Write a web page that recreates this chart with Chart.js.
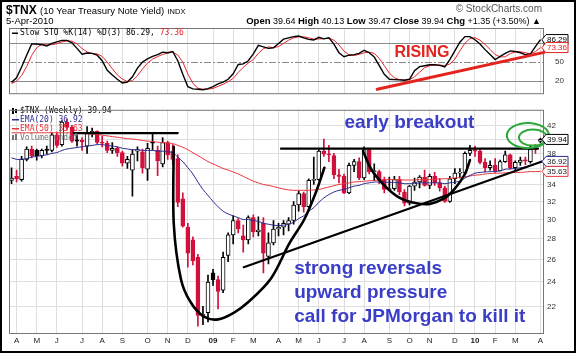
<!DOCTYPE html>
<html>
<head>
<meta charset="utf-8">
<script src="https://cdn.jsdelivr.net/npm/chart.js@4.4.1/dist/chart.umd.min.js"></script>
<style>
  html, body { margin: 0; padding: 0; background: #fff; }
  #wrap { position: relative; width: 576px; height: 353px; overflow: hidden; font-family: "Liberation Sans", Arial, sans-serif; }
  #frame { position: absolute; left: 0; top: 0; width: 572px; height: 349px; border: 2px solid #000; pointer-events: none; }
  canvas { position: absolute; left: 0; }
  #stoCanvas { top: 0; }
  #priceCanvas { top: 101px; }
  .t { position: absolute; white-space: nowrap; color: #000; }
  .hd b { font-size: 9.5px; }
</style>
</head>
<body>
<div id="wrap">
  <canvas id="stoCanvas" width="576" height="102"></canvas>
  <canvas id="priceCanvas" width="576" height="252"></canvas>
  <div class="t" style="left:6px;top:3px;font-size:12px"><b>$TNX</b> <span style="font-size:9.5px">(10 Year Treasury Note Yield)</span> <span style="font-size:7.5px">INDX</span></div>
  <div class="t" style="left:6px;top:15px;font-size:9.5px">5-Apr-2010</div>
  <div class="t" style="right:34px;top:3px;font-size:10px;color:#555">&copy; StockCharts.com</div>
  <div class="t hd" style="right:35px;top:15px;font-size:9px"><b>Open</b> 39.64 <b>High</b> 40.13 <b>Low</b> 39.47 <b>Close</b> 39.94 <b>Chg</b> +1.35 (+3.50%) &#9650;</div>
  <div id="frame"></div>
</div>
<script>
// weekly bars, first bar is the week of 31-Mar-2008, last is 5-Apr-2010
const opens = [34.5, 35.0, 34.6, 37.2, 38.6, 38.4, 37.7, 38.5, 38.4, 40.6,
  39.2, 42.5, 41.7, 39.9, 39.8, 39.0, 40.9, 41.1, 39.5, 39.4,
  38.4, 38.7, 38.1, 36.7, 35.8, 38.3, 38.2, 35.9, 39.5, 38.4,
  36.6, 39.5, 38.3, 37.3, 32.3, 29.2, 27.9, 26.2, 21.3, 21.5,
  24.8, 24.2, 23.3, 26.4, 28.4, 29.9, 28.3, 27.9, 30.2, 28.7,
  29.6, 26.3, 27.6, 29.0, 29.2, 29.5, 29.9, 31.6, 32.9, 31.4,
  34.5, 34.6, 38.3, 37.9, 37.7, 35.2, 35.0, 33.0, 36.4, 36.9,
  34.8, 38.5, 35.6, 35.6, 34.5, 33.4, 33.5, 34.6, 33.1, 31.8,
  33.8, 34.3, 34.9, 33.9, 35.0, 34.2, 33.6, 32.0, 34.7, 35.4,
  35.4, 38.0, 38.4, 38.3, 36.8, 36.1, 36.4, 35.7, 36.9, 37.8,
  36.1, 36.8, 37.1, 36.9, 38.6, 39.64];
const highs = [36.1, 35.8, 37.6, 38.9, 39.0, 38.6, 38.6, 39.0, 40.9, 41.0,
  42.7, 42.9, 42.0, 40.6, 40.2, 41.8, 41.6, 41.2, 40.4, 39.7,
  39.5, 38.9, 38.3, 37.6, 38.5, 38.9, 38.6, 39.4, 40.8, 39.0,
  40.2, 39.7, 39.2, 37.8, 33.0, 29.6, 28.2, 26.5, 22.0, 24.6,
  25.1, 24.5, 26.7, 28.6, 30.4, 30.1, 29.4, 30.4, 30.5, 30.3,
  30.2, 28.6, 29.9, 29.6, 29.9, 30.2, 32.0, 33.2, 33.1, 34.7,
  37.5, 38.7, 40.0, 39.1, 38.0, 35.9, 35.3, 36.7, 37.2, 37.4,
  38.9, 38.5, 36.6, 35.8, 34.9, 34.9, 35.0, 35.0, 33.4, 33.9,
  34.8, 35.1, 35.8, 35.3, 35.5, 34.7, 33.8, 35.0, 36.0, 36.0,
  38.2, 39.1, 39.0, 38.6, 37.3, 37.0, 37.3, 37.1, 38.3, 37.9,
  37.0, 37.5, 37.5, 39.0, 39.2, 40.13];
const lows = [34.1, 34.3, 34.4, 37.0, 37.4, 37.1, 37.4, 37.9, 38.2, 38.8,
  39.0, 41.3, 39.5, 39.0, 38.4, 38.0, 40.3, 39.3, 38.9, 38.1,
  38.0, 37.6, 36.3, 36.0, 32.6, 37.0, 35.4, 34.5, 38.5, 35.1,
  36.2, 37.2, 36.5, 31.4, 29.2, 25.3, 25.5, 20.5, 20.6, 20.8,
  23.7, 21.8, 23.1, 25.8, 27.5, 28.6, 26.7, 27.5, 28.2, 28.3,
  24.8, 25.6, 27.4, 28.3, 28.4, 28.8, 29.5, 30.9, 30.8, 31.0,
  34.0, 34.5, 37.6, 36.9, 34.7, 34.2, 32.9, 32.9, 35.6, 34.6,
  34.6, 35.3, 34.5, 34.1, 33.0, 33.3, 33.3, 32.8, 31.5, 31.6,
  33.3, 33.6, 33.8, 33.5, 33.9, 33.2, 31.9, 31.9, 34.1, 34.8,
  35.3, 37.7, 37.6, 36.6, 35.6, 35.8, 35.5, 35.7, 36.8, 35.9,
  35.8, 36.4, 36.5, 36.7, 38.0, 39.47];
const closes = [34.8, 34.7, 37.2, 38.6, 37.7, 37.7, 38.4, 38.4, 40.6, 39.1,
  42.5, 41.7, 39.7, 39.7, 39.6, 40.9, 41.1, 39.5, 39.4, 38.4,
  38.7, 38.1, 36.7, 37.2, 37.9, 38.5, 36.1, 38.7, 39.4, 37.0,
  39.5, 37.8, 37.2, 31.9, 29.3, 26.6, 25.9, 21.3, 21.3, 24.0,
  24.2, 23.2, 26.2, 28.4, 29.9, 29.0, 27.9, 30.2, 28.7, 28.9,
  26.6, 27.6, 29.0, 29.2, 29.6, 29.9, 31.6, 32.9, 31.4, 34.5,
  34.6, 38.3, 37.9, 37.8, 35.2, 35.0, 33.0, 36.4, 36.9, 34.8,
  38.5, 35.6, 35.6, 34.5, 33.4, 33.5, 34.6, 33.1, 31.8, 33.8,
  34.3, 34.9, 33.9, 35.0, 34.2, 33.6, 32.0, 34.7, 35.4, 35.4,
  38.0, 38.4, 38.3, 36.8, 36.1, 36.4, 35.7, 36.9, 37.8, 36.1,
  36.8, 37.1, 37.0, 38.6, 38.59, 39.94];
const ema20 = [37.4, 37.2, 37.2, 37.3, 37.5, 37.6, 37.7, 37.8, 38.0, 38.1,
  38.4, 38.6, 38.7, 38.8, 38.9, 39.0, 39.1, 39.2, 39.2, 39.1,
  39.0, 38.9, 38.7, 38.6, 38.5, 38.5, 38.4, 38.4, 38.4, 38.3,
  38.3, 38.2, 38.1, 37.5, 36.9, 36.1, 35.3, 34.3, 33.4, 32.7,
  32.0, 31.4, 30.9, 30.6, 30.4, 30.2, 30.0, 30.0, 29.9, 29.8,
  29.6, 29.5, 29.4, 29.35, 29.4, 29.5, 29.7, 30.1, 30.4, 30.9,
  31.3, 31.9, 32.4, 32.8, 33.1, 33.3, 33.4, 33.6, 33.8, 33.9,
  34.1, 34.2, 34.3, 34.3, 34.3, 34.25, 34.25, 34.2, 34.1, 34.1,
  34.1, 34.2, 34.2, 34.2, 34.2, 34.2, 34.1, 34.2, 34.3, 34.4,
  34.8, 35.1, 35.4, 35.5, 35.55, 35.6, 35.6, 35.7, 35.9, 35.95,
  36.0, 36.1, 36.2, 36.4, 36.6, 36.92];
const ema50 = [40.9, 40.9, 40.9, 40.9, 40.9, 40.9, 40.9, 40.9, 40.9, 40.9,
  40.9, 40.9, 40.9, 40.85, 40.8, 40.75, 40.7, 40.65, 40.55, 40.45,
  40.35, 40.25, 40.15, 40.05, 40.0, 39.9, 39.8, 39.7, 39.65, 39.55,
  39.5, 39.45, 39.35, 39.1, 38.85, 38.5, 38.1, 37.7, 37.3, 36.9,
  36.6, 36.3, 36.0, 35.8, 35.55, 35.3, 35.0, 34.7, 34.4, 34.2,
  34.0, 33.9, 33.75, 33.6, 33.45, 33.35, 33.3, 33.3, 33.3, 33.3,
  33.35, 33.4, 33.55, 33.7, 33.85, 34.0, 34.1, 34.2, 34.3, 34.35,
  34.4, 34.45, 34.5, 34.55, 34.6, 34.6, 34.6, 34.6, 34.55, 34.55,
  34.55, 34.6, 34.6, 34.6, 34.65, 34.7, 34.7, 34.75, 34.8, 34.85,
  34.95, 35.05, 35.15, 35.2, 35.3, 35.35, 35.4, 35.4, 35.45, 35.45,
  35.5, 35.5, 35.55, 35.6, 35.6, 35.63];
const stoK = [17, 24.5, 42, 61, 79, 79, 78, 76, 80, 82.5,
  85, 85, 81, 72, 62.5, 64.5, 64, 61, 52, 36.5,
  29, 22, 16, 17.5, 26, 40, 50, 55, 59, 62,
  66, 65, 67, 52, 30, 10, 6.5, 6, 5, 7,
  10, 14.6, 17.5, 22, 31, 46, 47, 52, 63, 77,
  74.5, 72, 73, 80, 87, 89, 91, 92, 89, 86.5,
  85.5, 90, 87.5, 89, 79, 65, 58.5, 61, 62, 64,
  69, 65, 58, 44, 30, 22, 21.5, 21, 20.5, 22,
  36, 42.5, 44, 45.5, 45.5, 44.5, 42, 54, 68, 82,
  91, 91, 86, 79, 70, 62, 54, 59, 64, 68,
  67, 65, 62, 63, 75, 86.29];
const stoD = [15, 19, 28, 42.5, 60.7, 73, 78.7, 77.7, 78, 79.5,
  82.5, 84, 83.7, 79.3, 71.8, 66.3, 63.7, 63.2, 59, 49.8,
  39.2, 29.2, 22.3, 18.5, 19.8, 27.8, 38.7, 48.3, 54.7, 58.7,
  62.3, 64.3, 66, 61.3, 49.7, 30.7, 15.5, 7.5, 5.8, 6,
  7.3, 10.5, 14, 18, 23.5, 33, 41.3, 48.3, 54, 64,
  71.5, 74.5, 73.2, 75, 80, 85.3, 89, 90.7, 90.7, 89.2,
  87, 87.3, 87.7, 88.8, 85.2, 77.7, 67.5, 61.5, 60.5, 62.3,
  65, 66, 64, 55.7, 44, 32, 24.5, 21.5, 21, 21.2,
  26.2, 33.5, 40.8, 44, 45, 45.2, 44, 46.8, 54.7, 68,
  80.3, 88, 89.3, 85.3, 78.3, 70.3, 62, 58.3, 58.3, 63.7,
  66.3, 66.7, 65, 63.3, 66.7, 73.36];
const priceTicks = [22, 24, 26, 28, 30, 32, 34, 36, 38, 40, 42];
const stoTicks = [20, 50, 80];

// annotations, in [week index, value]
const resistanceLines = [[[12.3, 40.85], [33, 40.85]], [[53.5, 38.64], [104.5, 38.64]]];
const trendLine = [[46.1, 25.3], [105.3, 36.9]];
const bigCup = [[32.2, 38.9], [32.2, 29.6], [33.6, 24.3], [35.6, 22.3], [38.2, 21.2], [41.0, 21.0],
  [44.1, 21.5], [46.9, 22.3], [51.5, 24.3], [55.1, 27.5], [58.1, 30.0], [60.5, 33.2], [62.1, 36.1]];
const smallCup = [[69.8, 38.3], [71.4, 35.9], [74.0, 33.9], [76.8, 32.5], [79.4, 31.9], [82.8, 31.7],
  [86.0, 32.4], [88.0, 33.5], [90.0, 35.3], [91.0, 37.1]];
const stoTrend = [[72.6, 5.8], [105.7, 65.6]];

const RED = '#d2103c';
const GRID = '#dedede';
const FONT = '"Liberation Sans", Arial, sans-serif';
const MONO = '"DejaVu Sans Mono", monospace';
const MONTHS = 'JFMAMJJASOND';

const weekDates = opens.map((_, i) => new Date(2008, 2, 31 + 7 * i));
const weekLabels = weekDates.map(d => `${d.getFullYear()}-${d.getMonth() + 1}-${d.getDate()}`);
const monthMarks = weekDates.map((d, i) => {
  if (i === 0 || d.getMonth() === weekDates[i - 1].getMonth()) return '';
  return d.getMonth() === 0 ? String(d.getFullYear()).slice(2) : MONTHS[d.getMonth()];
});
const monthGrid = c => monthMarks[c.index] ? GRID : 'rgba(0,0,0,0)';

const candleColor = closes.map((c, i) => (i > 0 && c < closes[i - 1]) ? RED : '#000');
const bodyFill = closes.map((c, i) => c < opens[i] ? candleColor[i] : '#fff');
const bodies = opens.map((o, i) => [Math.min(o, closes[i]), Math.max(o, closes[i])]);
const wicks = lows.map((l, i) => [l, highs[i]]);

function smoothPath(ctx, p) {
  ctx.beginPath();
  ctx.moveTo(p[0][0], p[0][1]);
  for (let i = 0; i < p.length - 1; i++) {
    const p0 = p[i - 1] || p[i], p1 = p[i], p2 = p[i + 1], p3 = p[i + 2] || p2;
    ctx.bezierCurveTo(p1[0] + (p2[0] - p0[0]) / 6, p1[1] + (p2[1] - p0[1]) / 6,
      p2[0] - (p3[0] - p1[0]) / 6, p2[1] - (p3[1] - p1[1]) / 6, p2[0], p2[1]);
  }
  ctx.stroke();
}

function tag(ctx, left, yc, text, border, color) {
  const w = 26, h = 10;
  ctx.beginPath();
  ctx.moveTo(left, yc);
  ctx.lineTo(left + 4, yc - h / 2);
  ctx.lineTo(left + w, yc - h / 2);
  ctx.lineTo(left + w, yc + h / 2);
  ctx.lineTo(left + 4, yc + h / 2);
  ctx.closePath();
  ctx.fillStyle = '#fff';
  ctx.fill();
  ctx.strokeStyle = border;
  ctx.lineWidth = 1;
  ctx.stroke();
  ctx.fillStyle = color;
  ctx.font = `8px ${FONT}`;
  ctx.textAlign = 'left';
  ctx.textBaseline = 'middle';
  ctx.fillText(text, left + 5, yc + 0.5);
}

function frame(ctx, a) {
  ctx.strokeStyle = '#777';
  ctx.lineWidth = 1;
  ctx.strokeRect(a.left + 0.5, a.top + 0.5, a.right - a.left, a.bottom - a.top);
}

const stoDecor = {
  id: 'stoDecor',
  beforeDatasetsDraw(chart) {
    const { ctx, chartArea: a, scales: { y } } = chart;
    ctx.save();
    ctx.strokeStyle = '#8a8a8a';
    ctx.lineWidth = 1;
    [80, 20].forEach(v => {
      const py = Math.round(y.getPixelForValue(v)) + 0.5;
      ctx.beginPath(); ctx.moveTo(a.left, py); ctx.lineTo(a.right, py); ctx.stroke();
    });
    ctx.setLineDash([7, 2, 2, 2]);
    const p50 = Math.round(y.getPixelForValue(50)) + 0.5;
    ctx.beginPath(); ctx.moveTo(a.left, p50); ctx.lineTo(a.right, p50); ctx.stroke();
    ctx.restore();
  },
  afterDraw(chart) {
    const { ctx, chartArea: a, scales: { x, y } } = chart;
    ctx.save();
    frame(ctx, a);
    ctx.strokeStyle = '#e4231f';
    ctx.lineWidth = 3;
    ctx.lineCap = 'round';
    ctx.beginPath();
    ctx.moveTo(x.getPixelForValue(stoTrend[0][0]), y.getPixelForValue(stoTrend[0][1]));
    ctx.lineTo(x.getPixelForValue(stoTrend[1][0]), y.getPixelForValue(stoTrend[1][1]));
    ctx.stroke();
    ctx.fillStyle = '#e4231f';
    ctx.font = `bold 16px ${FONT}`;
    ctx.textAlign = 'left';
    ctx.textBaseline = 'alphabetic';
    ctx.fillText('RISING', x.getPixelForValue(76.0), y.getPixelForValue(58.3));

    ctx.font = `8px ${MONO}`;
    ctx.textBaseline = 'middle';
    ctx.fillStyle = '#000';
    ctx.fillRect(12, 32.5, 6, 1.5);
    const legend = 'Slow STO %K(14) %D(3) 86.29, ';
    ctx.fillText(legend, 20, 33);
    ctx.fillStyle = '#e4231f';
    ctx.fillText('73.36', 20 + ctx.measureText(legend).width, 33);

    tag(ctx, a.right - 1, y.getPixelForValue(86.29), '86.29', '#000', '#000');
    tag(ctx, a.right - 1, y.getPixelForValue(73.36), '73.36', '#e4231f', '#e4231f');
    ctx.restore();
  }
};

const priceDecor = {
  id: 'priceDecor',
  afterDraw(chart) {
    const { ctx, chartArea: a, scales: { x, y } } = chart;
    const px = p => [x.getPixelForValue(p[0]), y.getPixelForValue(p[1])];
    ctx.save();
    ctx.beginPath();
    ctx.rect(a.left, a.top, a.right - a.left, a.bottom - a.top);
    ctx.clip();
    ctx.strokeStyle = '#000';
    ctx.lineCap = 'round';
    ctx.lineWidth = 2.2;
    [...resistanceLines, trendLine].forEach(seg => {
      const s = px(seg[0]), e = px(seg[1]);
      ctx.beginPath(); ctx.moveTo(s[0], s[1]); ctx.lineTo(e[0], e[1]); ctx.stroke();
    });
    ctx.lineWidth = 2.6;
    [bigCup, smallCup].forEach(pts => smoothPath(ctx, pts.map(px)));
    ctx.restore();

    ctx.save();
    ctx.strokeStyle = '#2da83a';
    ctx.lineWidth = 2;
    const outer = px([102.5, 40.5]), inner = px([103.5, 40.2]);
    ctx.beginPath(); ctx.ellipse(outer[0], outer[1], 21, 12.5, 0, 0, Math.PI * 2); ctx.stroke();
    ctx.beginPath(); ctx.ellipse(inner[0], inner[1], 14, 8, 0, 0, Math.PI * 2); ctx.stroke();

    ctx.fillStyle = '#3a3ec6';
    ctx.font = `bold 19px ${FONT}`;
    ctx.textAlign = 'left';
    ctx.textBaseline = 'alphabetic';
    ctx.fillText('early breakout', x.getPixelForValue(66.1), y.getPixelForValue(41.56));
    ctx.fillText('strong reversals', x.getPixelForValue(56.1), y.getPixelForValue(24.7));
    ctx.fillText('upward pressure', x.getPixelForValue(56.1), y.getPixelForValue(22.64));
    ctx.fillText('call for JPMorgan to kill it', x.getPixelForValue(56.1), y.getPixelForValue(20.8));

    // legend
    ctx.font = `8px ${MONO}`;
    ctx.textBaseline = 'middle';
    ctx.fillStyle = '#000';
    ctx.fillRect(12, 7, 2, 6);
    ctx.fillRect(15, 8, 2, 4);
    ctx.fillText('$TNX (Weekly) 39.94', 20, 9.5);
    ctx.fillStyle = '#2b2b8f';
    ctx.fillRect(12, 18, 7, 1.5);
    ctx.fillText('EMA(20) 36.92', 20, 18.5);
    ctx.fillStyle = '#e8353a';
    ctx.fillRect(12, 27, 7, 1.5);
    ctx.fillText('EMA(50) 35.63', 20, 27.5);
    ctx.fillStyle = '#777';
    ctx.fillRect(12, 34, 2, 5);
    ctx.fillRect(15, 33, 2, 6);
    ctx.fillText('Volume undef', 20, 36.5);

    frame(ctx, a);
    tag(ctx, a.right - 1, y.getPixelForValue(39.94), '39.94', '#000', '#000');
    tag(ctx, a.right - 1, y.getPixelForValue(36.92), '36.92', '#2b2b8f', '#222');
    tag(ctx, a.right - 1, y.getPixelForValue(35.63), '35.63', '#e8353a', '#222');
    ctx.restore();
  }
};

new Chart(document.getElementById('stoCanvas'), {
  type: 'line',
  data: {
    labels: weekLabels,
    datasets: [
      { data: stoD, borderColor: '#e8242c', borderWidth: 1, pointRadius: 0, tension: 0, order: 1 },
      { data: stoK, borderColor: '#000', borderWidth: 1.4, pointRadius: 0, tension: 0, order: 0 },
    ],
  },
  options: {
    responsive: false, animation: false, events: [],
    layout: { padding: { left: 9, top: 28, bottom: 2, right: 0 } },
    plugins: { legend: { display: false }, tooltip: { enabled: false } },
    scales: {
      x: {
        offset: true,
        grid: { offset: false, drawTicks: false, color: monthGrid },
        border: { display: false },
        ticks: { display: false },
        afterFit: s => { s.height = 0; },
      },
      y: {
        position: 'right', min: -0.5, max: 105,
        afterBuildTicks: s => { s.ticks = stoTicks.map(v => ({ value: v })); },
        grid: { display: false },
        border: { display: false },
        ticks: { font: { family: FONT, size: 8 }, color: '#333', padding: 4 },
        afterFit: s => { s.width = 33; },
      },
    },
  },
  plugins: [stoDecor],
});

new Chart(document.getElementById('priceCanvas'), {
  type: 'bar',
  data: {
    labels: weekLabels,
    datasets: [
      { type: 'line', data: ema20, borderColor: '#2b2b8f', borderWidth: 1, pointRadius: 0, tension: 0.3, order: 0 },
      { type: 'line', data: ema50, borderColor: '#e8353a', borderWidth: 1, pointRadius: 0, tension: 0.3, order: 0 },
      {
        data: bodies, backgroundColor: bodyFill, borderColor: candleColor, borderWidth: 1,
        borderSkipped: false, barThickness: 4, minBarLength: 1, grouped: false, order: 1,
      },
      { data: wicks, backgroundColor: candleColor, borderWidth: 0, barThickness: 1, grouped: false, order: 2 },
    ],
  },
  options: {
    responsive: false, animation: false, events: [],
    layout: { padding: { left: 9, top: 2, bottom: 2, right: 0 } },
    plugins: { legend: { display: false }, tooltip: { enabled: false } },
    scales: {
      x: {
        offset: true,
        grid: { offset: false, drawTicks: false, color: monthGrid },
        border: { display: false },
        ticks: {
          autoSkip: false, maxRotation: 0, padding: 3, color: '#222',
          font: c => ({ family: FONT, size: 8, weight: /\d/.test(monthMarks[c.index]) ? 'bold' : 'normal' }),
          callback: (v, i) => monthMarks[i],
        },
        afterFit: s => { s.height = 18; },
      },
      y: {
        type: 'logarithmic', position: 'right', min: 20, max: 44.4,
        afterBuildTicks: s => { s.ticks = priceTicks.map(v => ({ value: v })); },
        grid: { color: GRID, drawTicks: false },
        border: { display: false },
        ticks: { font: { family: FONT, size: 8 }, color: '#333', padding: 4, callback: v => String(v) },
        afterFit: s => { s.width = 33; },
      },
    },
  },
  plugins: [priceDecor],
});
</script>
</body>
</html>
